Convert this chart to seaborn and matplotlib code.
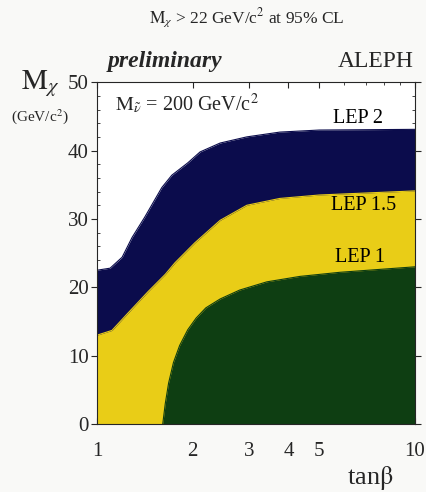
import numpy as np
import pandas as pd
import matplotlib
matplotlib.use("Agg")
import matplotlib.pyplot as plt
from matplotlib.ticker import FixedLocator, NullFormatter, MultipleLocator
import seaborn as sns

# boundaries (tan beta, M_chi in GeV/c^2)
lep2_tb = [1.0, 1.1, 1.2, 1.29, 1.415, 1.6, 1.72, 1.93, 2.11, 2.44, 2.96, 3.76, 5.0, 10.0]
lep2_m = [22.5, 22.8, 24.4, 27.3, 30.3, 34.6, 36.4, 38.2, 39.8, 41.1, 42.0, 42.7, 43.0, 43.1]

lep15_tb = [1.0, 1.115, 1.25, 1.45, 1.64, 1.76, 2.03, 2.44, 2.96, 3.76, 5.0, 10.0]
lep15_m = [13.0, 13.7, 16.2, 19.4, 21.9, 23.6, 26.5, 29.8, 32.0, 33.0, 33.5, 34.1]

lep1_tb = [1.61, 1.64, 1.68, 1.74, 1.82, 1.93, 2.05, 2.2, 2.44, 2.81, 3.42, 4.35, 5.81, 10.0]
lep1_m = [0.0, 3.0, 6.0, 9.0, 11.5, 13.8, 15.5, 17.0, 18.3, 19.6, 20.8, 21.6, 22.2, 23.0]

xtick_vals = [1, 2, 3, 4, 5, 10]

sns.set_style("ticks")
plt.rcParams['font.family'] = ['Liberation Serif', 'DejaVu Serif']
plt.rcParams['mathtext.fontset'] = 'stix'

navy = '#0b0c4c'
yellow = '#e9cd17'
green = '#0e3e12'

fig = plt.figure(figsize=(4.27, 4.92), dpi=100, facecolor='#f9f9f7')
ax = fig.add_axes([0.227, 0.138, 0.745, 0.695])
ax.set_facecolor('white')

bands = [
    (pd.DataFrame({'tb': lep2_tb, 'm': lep2_m}), navy),
    (pd.DataFrame({'tb': lep15_tb, 'm': lep15_m}), yellow),
    (pd.DataFrame({'tb': lep1_tb, 'm': lep1_m}), green),
]
for df, col in bands:
    ax.fill_between(df['tb'], 0, df['m'], color=col, lw=0)
    sns.lineplot(data=df, x='tb', y='m', ax=ax, color=col, lw=0.8, sort=False)

ax.set_xscale('log')
ax.set_xlim(1, 10)
ax.set_ylim(0, 50)
ax.xaxis.set_major_locator(FixedLocator(xtick_vals))
ax.xaxis.set_minor_locator(FixedLocator([6, 7, 8, 9]))
ax.xaxis.set_minor_formatter(NullFormatter())
ax.set_xticklabels([str(v) for v in xtick_vals])
ax.yaxis.set_major_locator(MultipleLocator(10))
ax.yaxis.set_minor_locator(MultipleLocator(2))
ax.tick_params(which='both', top=True, right=True, direction='in', labelsize=15)
ax.tick_params(axis='y', which='major', direction='out', length=4, pad=2)
ax.tick_params(axis='x', which='major', length=4, pad=13)
ax.tick_params(which='minor', length=2.5)
for s in ax.spines.values():
    s.set_linewidth(0.8)
ax.set_xlabel('')
ax.set_ylabel('')

fig.text(0.577, 0.963, r'$\mathrm{M}_\chi$ > 22 GeV/c$^2$ at 95% CL', ha='center', va='center', fontsize=12.5)
fig.text(0.386, 0.874, 'preliminary', ha='center', va='center', fontsize=17,
         fontweight='bold', fontstyle='italic')
fig.text(0.881, 0.874, 'ALEPH', ha='center', va='center', fontsize=17)
fig.text(0.094, 0.83, r'$\mathrm{M}_\chi$', ha='center', va='center', fontsize=21)
fig.text(0.094, 0.764, r'(GeV/c$^2$)', ha='center', va='center', fontsize=11)
fig.text(0.867, 0.028, r'tan$\mathrm{\beta}$', ha='center', va='center', fontsize=19)

ax.text(1.14, 46.9, r'$\mathrm{M}_{\tilde{\nu}}$ = 200 GeV/c$^2$', ha='left', va='center', fontsize=14.5)
ax.text(6.6, 44.7, 'LEP 2', ha='center', va='center', fontsize=14.5, color='black')
ax.text(6.9, 32.0, 'LEP 1.5', ha='center', va='center', fontsize=14.5, color='black')
ax.text(6.7, 24.4, 'LEP 1', ha='center', va='center', fontsize=14.5, color='black')

fig.savefig('out.png', dpi=100, facecolor=fig.get_facecolor())
